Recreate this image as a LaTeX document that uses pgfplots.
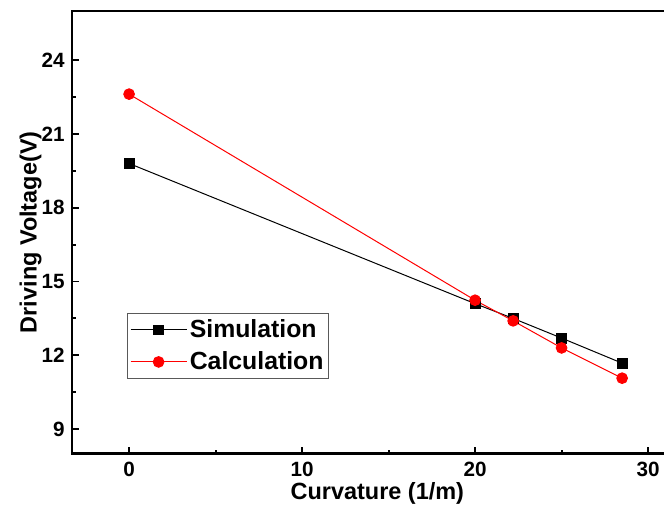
\documentclass[border=0pt]{standalone}
\usepackage{fontspec}
\setmainfont{Liberation Sans}
\usepackage{pgfplots}
\pgfplotsset{compat=1.18}
\begin{document}
\begin{tikzpicture}
\begin{axis}[
  at={(0,0)}, anchor=south west,
  scale only axis, width=458pt, height=332pt,
  xmin=-3.3, xmax=32, ymin=8, ymax=26,
  xtick={0,10,20,30}, minor x tick num=1,
  ytick={9,12,15,18,21,24}, minor y tick num=1,
  xtick pos=bottom, ytick pos=left,
  tick align=inside,
  major tick length=5pt, minor tick length=3pt,
  every tick/.style={black, line width=1.4pt},
  axis line style={line width=1.8pt},
  /pgf/number format/assume math mode=true,
  tick label style={font=\fontsize{15.5}{18}\selectfont\bfseries},
  xticklabel style={yshift=-3pt},
  yticklabel style={xshift=-2pt},
  xlabel={Curvature (1/m)}, ylabel={Driving Voltage(V)},
  label style={font=\fontsize{17.6}{20}\selectfont\bfseries},
  xlabel style={at={(axis description cs:0.5,0)}, anchor=center, yshift=-30pt},
  ylabel style={at={(axis description cs:0,0.5)}, anchor=center, yshift=31pt},
  legend style={at={(axis description cs:0.09,0.318)}, anchor=north west,
    draw=gray!70!black, line width=0.6pt, font=\fontsize{18.6}{22}\selectfont\bfseries,
    inner xsep=2pt, inner ysep=3pt, row sep=5pt},
  legend cell align=left,
  legend image code/.code={
    \draw[#1, mark repeat=2, mark phase=2] plot coordinates {(0cm,0cm) (0.74cm,0cm) (1.48cm,0cm)};},
]
\addplot[black, line width=0.75pt, mark=square*, mark size=3.7pt, mark options={solid}] coordinates {
  (0,19.8) (20,14.1) (22.2,13.5) (25,12.7) (28.5,11.68)
};
\addlegendentry{Simulation}
\addplot[red, line width=0.75pt, mark=*, mark size=4pt, mark options={solid, fill=red}] coordinates {
  (0,22.62) (20,14.24) (22.2,13.4) (25,12.3) (28.5,11.07)
};
\addlegendentry{Calculation}
\end{axis}
\pgfresetboundingbox
\useasboundingbox (-54pt,-40.5pt) rectangle (444pt,340.25pt);
\end{tikzpicture}
\end{document}
